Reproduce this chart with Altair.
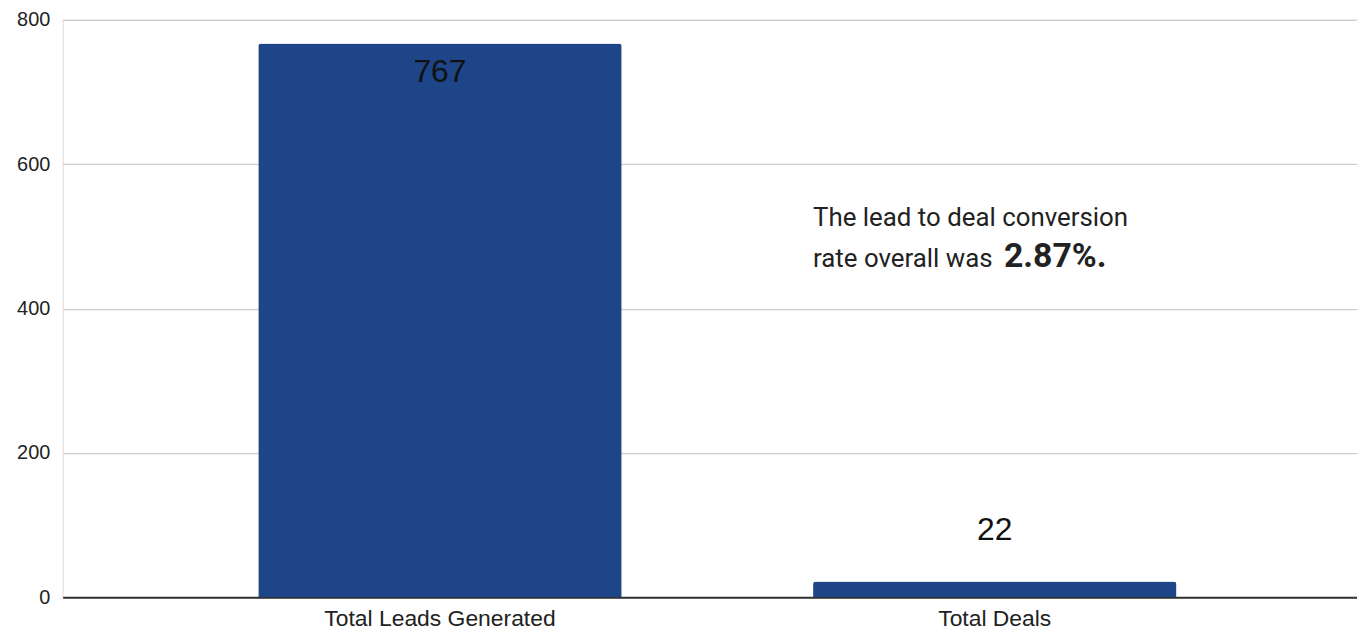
import altair as alt
import pandas as pd

categories = ["Total Leads Generated", "Total Deals"]
values = [767, 22]
note_line1 = "The lead to deal conversion"
note_line2 = "rate overall was "
note_bold = "2.87%."
note_y1 = 515
note_y2 = 458

df = pd.DataFrame({"category": categories, "value": values})

BAR = "#1d4587"
AX_FONT = "Liberation Sans, Arial, sans-serif"
NOTE_FONT = "Roboto, sans-serif"

x = alt.X("category:N", sort=categories, title=None,
          scale=alt.Scale(paddingInner=0.345, paddingOuter=0.339, align=0.52),
          axis=alt.Axis(labelAngle=0, ticks=False, domainColor="#333333", domainWidth=2,
                        labelFont=AX_FONT, labelFontSize=23, labelColor="#222222",
                        labelPadding=10, labelLimit=0, grid=False))
y = alt.Y("value:Q", title=None,
          scale=alt.Scale(domain=[0, 800]),
          axis=alt.Axis(values=[0, 200, 400, 600, 800], domain=False, ticks=False,
                        labelFont=AX_FONT, labelFontSize=20, labelColor="#222222",
                        labelPadding=13, gridColor="#cccccc", gridWidth=1.2))

base = alt.Chart(df)

bars = base.mark_bar(color=BAR, cornerRadiusTopLeft=3, cornerRadiusTopRight=3).encode(x=x, y=y)

lab_in = base.transform_filter(alt.datum.value > 100).mark_text(
    baseline="top", dy=14, fontSize=32, font=AX_FONT, color="#111111"
).encode(x=alt.X("category:N", sort=categories), y="value:Q", text="value:Q")

lab_out = base.transform_filter(alt.datum.value <= 100).mark_text(
    baseline="bottom", dy=-35, fontSize=32, font=AX_FONT, color="#111111"
).encode(x=alt.X("category:N", sort=categories), y="value:Q", text="value:Q")

note_df = pd.DataFrame({
    "category": [categories[1], categories[1]],
    "y": [note_y1, note_y2],
    "t": [note_line1, note_line2],
})
note = alt.Chart(note_df).mark_text(
    align="left", baseline="alphabetic", fontSize=26, font=NOTE_FONT, color="#222222"
).encode(
    x=alt.X("category:N", sort=categories, bandPosition=0),
    y="y:Q", text="t:N",
)

bold_df = pd.DataFrame({"category": [categories[1]], "y": [note_y2], "t": [note_bold]})
bold = alt.Chart(bold_df).mark_text(
    align="left", baseline="alphabetic", fontSize=34, font=NOTE_FONT, fontWeight="bold",
    color="#222222", dx=192
).encode(
    x=alt.X("category:N", sort=categories, bandPosition=0),
    y="y:Q", text="t:N",
)

chart = alt.layer(bars, lab_in, lab_out, note, bold).properties(
    width=1302, height=581,
    autosize=alt.AutoSizeParams(type="none"),
    padding={"left": 55, "top": 10, "right": 0, "bottom": 34},
).configure_view(stroke=None).configure(background="white")

chart.save("out.html", embed_options={"renderer": "svg", "actions": False})
